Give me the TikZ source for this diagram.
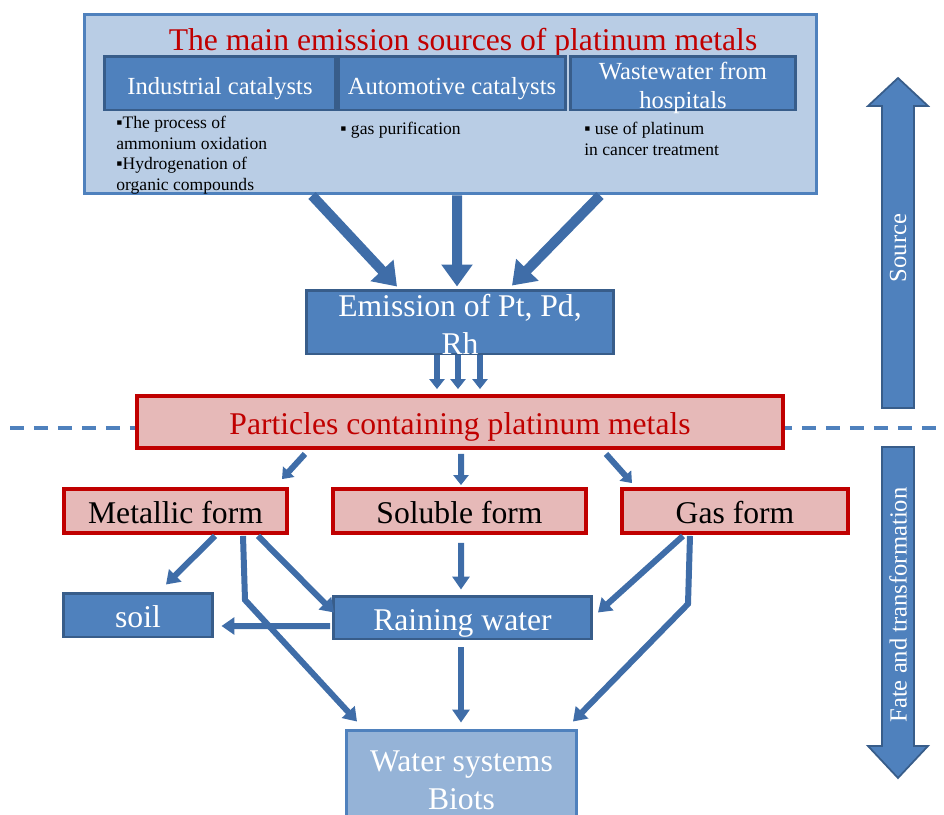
\documentclass[tikz,border=0pt]{standalone}
\usepackage{fontspec}
\setmainfont{Liberation Serif}
\usetikzlibrary{arrows.meta}
\usetikzlibrary{calc}

\definecolor{boxBlue}{HTML}{4F81BD}
\definecolor{edgeBlue}{HTML}{385D8A}
\definecolor{paleBlue}{HTML}{B9CDE5}
\definecolor{softBlue}{HTML}{95B3D7}
\definecolor{arrowBlue}{HTML}{3F6DA8}
\definecolor{rosePink}{HTML}{E6B9B8}
\definecolor{darkRed}{HTML}{C00000}

\begin{document}
\begin{tikzpicture}[x=0.02cm, y=-0.02cm]
\tikzstyle{blueBox} =
[
	shape			= rectangle,		% shape
	draw			= edgeBlue,			% colour of the border
	line width		= 1.7pt,			% thickness of the border
	fill			= boxBlue,			% filling colour
	text			= white,			% colour of the text
	font			= \fontsize{14}{16}\selectfont,
	align			= center,
	inner sep		= 0pt
]
\tikzstyle{paleBox} = [blueBox, fill = paleBlue, draw = boxBlue]
\tikzstyle{softBox} = [blueBox, fill = softBlue, draw = boxBlue, font = \fontsize{18}{21.5}\selectfont]
\tikzstyle{pinkBox} =
[
	blueBox,
	fill			= rosePink,
	draw			= darkRed,
	line width		= 2.2pt,
	text			= black,
	font			= \fontsize{18}{21}\selectfont
]
\tikzstyle{lowText} = [text height = 14.4pt, text depth = 0pt]	% sets the big labels a bit lower
\tikzstyle{lowSmallText} = [text height = 13pt, text depth = 0pt]
\tikzstyle{noteText} = [font = \fontsize{10}{11.7}\selectfont, align = left, inner sep = 0pt, anchor = north west]
\tikzstyle{sideText} = [font = \fontsize{14}{16}\selectfont, text = white, rotate = 90, inner sep = 0pt]
\tikzstyle{bigArrow} = [draw = arrowBlue, line width = 0.2cm, -{Triangle[width = 0.6cm, length = 0.44cm]}]
\tikzstyle{smallArrow} = [draw = arrowBlue, line width = 0.12cm, -{Triangle[width = 0.3cm, length = 0.2cm]}]
\tikzstyle{flowArrow} = [draw = arrowBlue, line width = 0.12cm, -{Triangle[width = 0.34cm, length = 0.26cm]}]
\tikzstyle{blockArrow} = [draw = edgeBlue, line width = 1pt, fill = boxBlue]

\useasboundingbox (0,0) rectangle (944,815);

% border between source and fate
\draw [draw = boxBlue, line width = 2pt, dash pattern = on 0.28cm off 0.2cm] (10,428) -- (944,428);

% sources
\node (sources) [paleBox, minimum width = 14.66cm, minimum height = 3.6cm] at (450.5,104) {};
\node (title) [anchor = base, text = darkRed, font = \fontsize{18}{20}\selectfont] at (463,50) {The main emission sources of platinum metals};
\node (industrial) [blueBox, lowSmallText, minimum width = 4.64cm, minimum height = 1.08cm] at (220,83) {Industrial catalysts};
\node (automotive) [blueBox, lowSmallText, minimum width = 4.56cm, minimum height = 1.08cm] at (452,83) {Automotive catalysts};
\node (wastewater) [blueBox, minimum width = 4.52cm, minimum height = 1.08cm] at (683,83) {};
\node (wastewaterText) [text = white, align = center, inner sep = 0pt, font = \fontsize{14}{16}\selectfont] at ($(wastewater.center)+(0,5)$) {Wastewater from\\hospitals};
\node (industrialNotes) [noteText] at (116,116) {▪The process of\\ammonium oxidation\\▪Hydrogenation of\\organic compounds};
\node (automotiveNotes) [noteText] at (340,122) {▪ gas purification};
\node (wastewaterNotes) [noteText] at (584,122) {▪ use of platinum\\in cancer treatment};

% emission
\node (emission) [blueBox, minimum width = 6.16cm, minimum height = 1.28cm] at (460,322) {};
\node (emissionText) [text = white, align = center, font = \fontsize{18}{21.5}\selectfont] at ($(emission.center)+(0,2)$) {Emission of Pt, Pd,\\Rh};
\draw [bigArrow] ($(sources.south)+(-138.5,0)$) -- ($(emission.north)+(-63,-2)$);
\draw [bigArrow] ($(sources.south)+(6.5,0)$) -- ($(emission.north)+(-3,-2)$);
\draw [bigArrow] ($(sources.south)+(149.5,0)$) -- ($(emission.north)+(52,-3)$);

% particles
\node (particles) [pinkBox, lowText, text = darkRed, minimum width = 12.92cm, minimum height = 1.04cm] at (460,422) {Particles containing platinum metals};
\foreach \dx in {-23,-2,20}
	\draw [smallArrow] ($(emission.south)+(\dx,0)$) -- ($(particles.north)+(\dx,-5)$);

% forms
\node (metal) [pinkBox, lowText, minimum width = 4.46cm, minimum height = 0.88cm] at (175.5,511) {Metallic form};
\node (soluble) [pinkBox, lowText, minimum width = 5.06cm, minimum height = 0.88cm] at (459.5,511) {Soluble form};
\node (gas) [pinkBox, lowText, minimum width = 4.52cm, minimum height = 0.88cm] at (735,511) {Gas form};
\draw [smallArrow] ($(particles.south)+(-155,4)$) -- ($(metal.north)+(106.5,-8)$);
\draw [smallArrow] ($(particles.south)+(1,4)$) -- ($(soluble.north)+(1.5,-2)$);
\draw [smallArrow] ($(particles.south)+(146,4)$) -- ($(gas.north)+(-103,-4)$);

% fate
\node (soil) [blueBox, lowText, font = \fontsize{18}{21}\selectfont, minimum width = 3cm, minimum height = 0.88cm] at (138,615) {soil};
\node (rain) [blueBox, lowText, font = \fontsize{18}{21}\selectfont, minimum width = 5.16cm, minimum height = 0.86cm] at (462.5,617.5) {Raining water};
\node (biots) [softBox, minimum width = 4.6cm, minimum height = 2cm] at (461.5,780) {Water systems\\Biots};
\draw [flowArrow] ($(metal.south)+(39.5,1)$) -- ($(soil.north)+(28,-7)$);
\draw [flowArrow] ($(metal.south)+(67.5,1)$) -- ($(metal.south)+(69.5,65)$) -- ($(biots.north)+(-104.5,-7)$);
\draw [flowArrow] ($(metal.south)+(82.5,1)$) -- ($(rain.west)+(2,-5)$);
\draw [flowArrow] ($(soluble.south)+(1.5,8)$) -- ($(rain.north)+(-1.5,-5)$);
\draw [flowArrow] ($(rain.west)+(-2,8.5)$) -- ($(soil.east)+(7,11)$);
\draw [flowArrow] ($(rain.south)+(-1.5,7)$) -- ($(biots.north)+(-0.5,-6)$);
\draw [flowArrow] ($(gas.south)+(-52,1)$) -- ($(rain.east)+(5,-5)$);
\draw [flowArrow] ($(gas.south)+(-45,1)$) -- ($(gas.south)+(-47,69)$) -- ($(biots.north)+(111.5,-7)$);

% side arrows
\draw [blockArrow] (882,408) -- (882,106) -- (868,106) -- (898,78) -- (928,106) -- (914,106) -- (914,408) -- cycle;
\node (sourceLabel) [sideText] at (898,248) {Source};
\draw [blockArrow] (882,447) -- (882,746) -- (868,746) -- (898,778) -- (928,746) -- (914,746) -- (914,447) -- cycle;
\node (fateLabel) [sideText] at (898,605) {Fate and transformation};
\end{tikzpicture}
\end{document}
